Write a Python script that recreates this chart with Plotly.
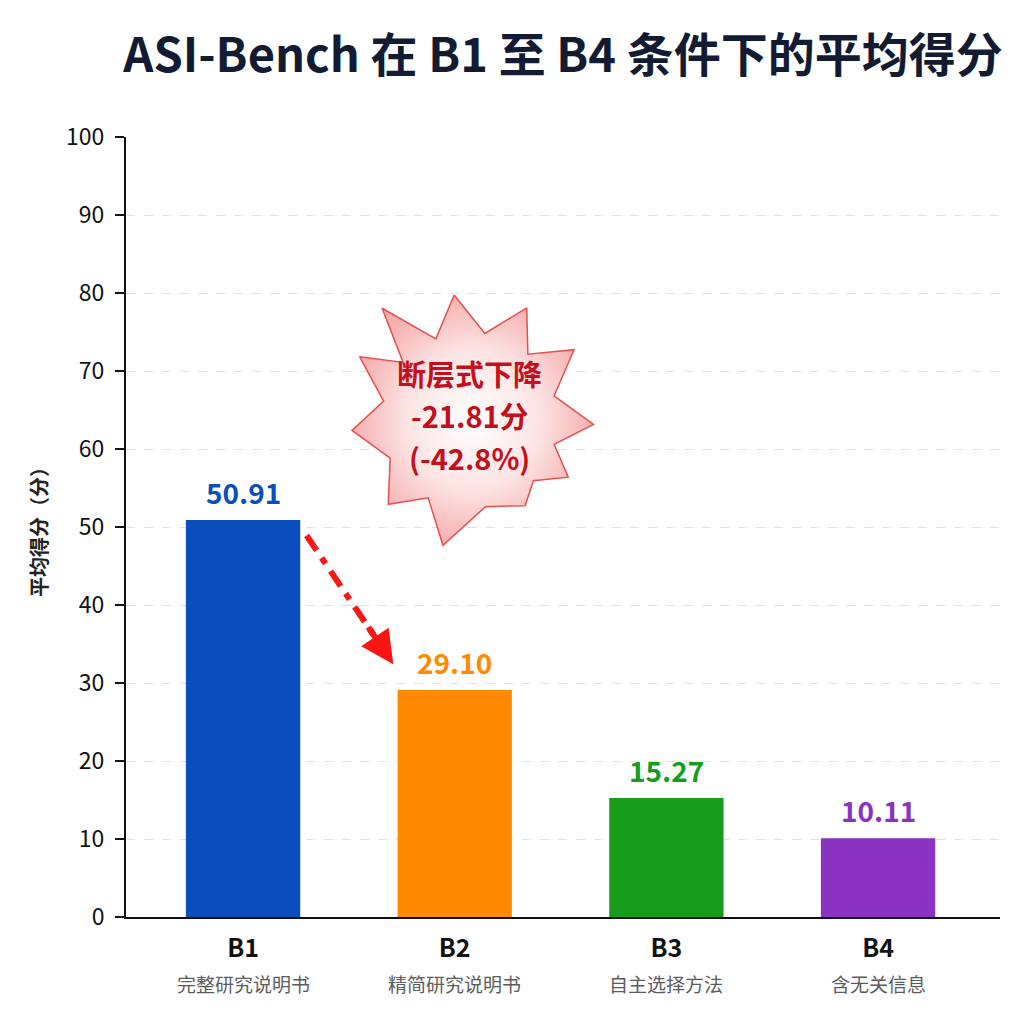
import numpy as np
import plotly.graph_objects as go

# 数据
categories = ["B1", "B2", "B3", "B4"]
subtitles = ["完整研究说明书", "精简研究说明书", "自主选择方法", "含无关信息"]
scores = [50.91, 29.10, 15.27, 10.11]
colors = ["#0a4dbd", "#ff8a00", "#179c1c", "#8a32c2"]
y_ticks = [0, 10, 20, 30, 40, 50, 60, 70, 80, 90, 100]

FONT = "Noto Sans CJK SC"
x_pos = list(range(len(categories)))
bar_width = 0.54

drop = scores[1] - scores[0]
drop_pct = drop / scores[0] * 100
burst_lines = ["断层式下降", f"{drop:.2f}分", f"({drop_pct:.1f}%)"]

fig = go.Figure()

fig.add_trace(go.Bar(
    x=x_pos, y=scores, width=bar_width,
    marker=dict(color=colors, line=dict(width=0)),
    hoverinfo="skip", showlegend=False,
))

# 爆炸形标注（中心和尖角）
burst_cx, burst_cy = 1.07, 63.7
xpx, ypx = 211.7, 7.8
spike_deg = [97, 63, 34, -2, -30, -57, -102, -134, -175, 150, 128]
spike_r = [126, 126, 126, 124, 114, 102, 128, 117, 118, 127, 142]
inner_r = 88
bx, by = [], []
for k in range(len(spike_deg)):
    a1 = np.radians(spike_deg[k])
    a2 = np.radians(spike_deg[(k + 1) % len(spike_deg)])
    if a2 > a1:
        a2 -= 2 * np.pi
    am = (a1 + a2) / 2
    bx += [burst_cx + spike_r[k] * np.cos(a1) / xpx, burst_cx + inner_r * np.cos(am) / xpx]
    by += [burst_cy + spike_r[k] * np.sin(a1) / ypx, burst_cy + inner_r * np.sin(am) / ypx]
bx.append(bx[0])
by.append(by[0])

fig.add_trace(go.Scatter(
    x=bx, y=by, mode="lines", fill="toself",
    fillgradient=dict(type="radial", colorscale=[[0, "#ffffff"], [0.55, "#fde4e4"], [1, "#f6b0b0"]]),
    line=dict(color="#e8504f", width=1.5),
    hoverinfo="skip", showlegend=False,
))

# 下降箭头（虚线 + 箭头）
ax = [x_pos[0] + bar_width / 2 + 0.03, x_pos[1] - bar_width / 2 - 0.02]
ay = [scores[0] - 2.0, scores[1] + 3.3]
t = 0.82
fig.add_trace(go.Scatter(
    x=[ax[0], ax[0] + t * (ax[1] - ax[0])], y=[ay[0], ay[0] + t * (ay[1] - ay[0])],
    mode="lines",
    line=dict(color="#ff1414", width=6, dash="18px,9px,7px,9px"),
    hoverinfo="skip", showlegend=False,
))

annotations = [dict(
    x=ax[1], y=ay[1], ax=ax[0] + 0.7 * (ax[1] - ax[0]), ay=ay[0] + 0.7 * (ay[1] - ay[0]),
    xref="x", yref="y", axref="x", ayref="y", text="",
    showarrow=True, arrowhead=2, arrowsize=1.1, arrowwidth=6, arrowcolor="#ff1414",
)]
for i, v in enumerate(scores):
    annotations.append(dict(
        x=x_pos[i], y=v, xref="x", yref="y", text=f"<b>{v:.2f}</b>",
        showarrow=False, yanchor="bottom", yshift=6,
        font=dict(family=FONT, size=28, color=colors[i]),
    ))
    annotations.append(dict(
        x=x_pos[i], y=0, xref="x", yref="paper", text=subtitles[i],
        showarrow=False, yanchor="middle", yshift=-66,
        font=dict(family=FONT, size=19, color="#5c5c5c"),
    ))
for j, line in enumerate(burst_lines):
    annotations.append(dict(
        x=burst_cx, y=burst_cy, xref="x", yref="y", text=f"<b>{line}</b>",
        showarrow=False, yanchor="middle", yshift=(1 - j) * 42 + 5,
        font=dict(family=FONT, size=29, color="#c4101c"),
    ))

fig.update_layout(
    width=1024, height=1024,
    paper_bgcolor="white", plot_bgcolor="white",
    margin=dict(l=118, r=32, t=129, b=115),
    title=dict(
        text="<b>ASI-Bench 在 B1 至 B4 条件下的平均得分</b>",
        x=0.5, xref="paper", xanchor="center", y=0.954, yanchor="middle",
        font=dict(family=FONT, size=47, color="#131b33"),
    ),
    xaxis=dict(
        range=[-0.553, 3.576], tickvals=x_pos,
        ticktext=[f"<b>{c}</b>" for c in categories],
        showline=True, linecolor="#111111", linewidth=2,
        ticks="", showgrid=False, zeroline=False, ticklabelstandoff=8,
        tickfont=dict(family=FONT, size=25, color="#111111"),
    ),
    yaxis=dict(
        range=[0, 100], tickvals=y_ticks,
        showline=True, linecolor="#111111", linewidth=2,
        ticks="outside", ticklen=9, tickwidth=2, tickcolor="#111111",
        showgrid=True, gridcolor="#e2e2e2", griddash="dash", gridwidth=1,
        zeroline=False, ticklabelstandoff=6,
        tickfont=dict(family=FONT, size=23, color="#111111"),
        title=dict(text="<b>平均得分（分）</b>", standoff=13,
                   font=dict(family=FONT, size=20, color="#222222")),
    ),
    annotations=annotations,
)

fig.write_html("out.html")
